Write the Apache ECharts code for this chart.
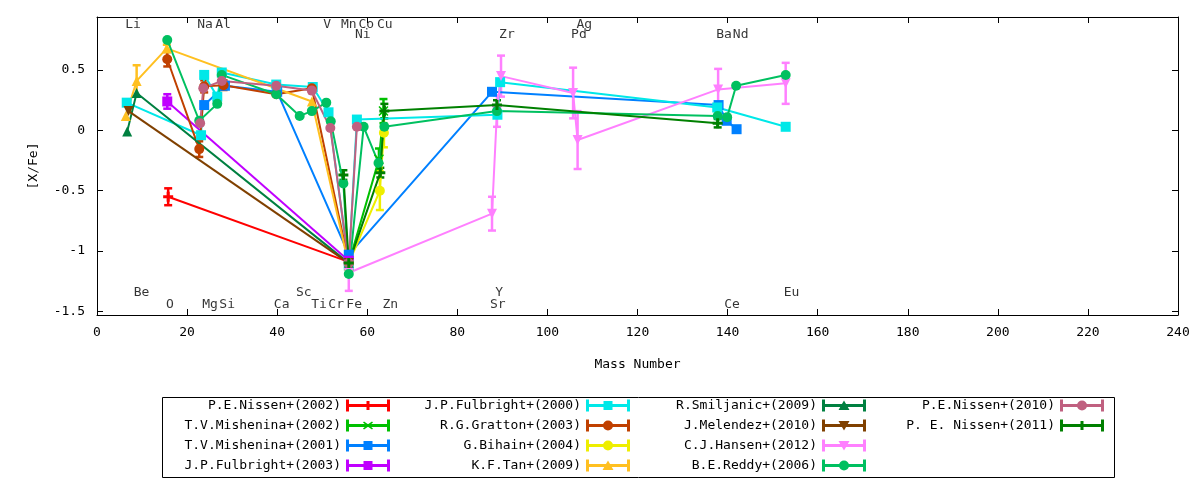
<!DOCTYPE html>
<html>
<head>
<meta charset="utf-8">
<script src="https://cdn.jsdelivr.net/npm/echarts@6/dist/echarts.min.js"></script>
<style>
  html, body { margin: 0; padding: 0; background: #fff; }
  #chart { width: 1200px; height: 480px; }
</style>
</head>
<body>
<div id="chart"></div>
<script>
// ---- data: mass number / [X/Fe] / error, one group per paper ----
const nissen2002Mass = [15.8, 55.9];
const nissen2002Val = [-0.55, -1.09];
const nissen2002Err = [0.07, 0];

const mishenina2002Mass = [55.9, 62.6, 63.6];
const mishenina2002Val = [-1.1, -0.24, 0.16];
const mishenina2002Err = [0, 0.09, 0.1];

const mishenina2001Mass = [23.8, 28.4, 40.0, 55.9, 87.7, 138.0, 139.8, 142.0];
const mishenina2001Val = [0.21, 0.37, 0.32, -1.03, 0.32, 0.21, 0.08, 0.01];

const fulbright2003Mass = [15.6, 55.9];
const fulbright2003Val = [0.24, -1.08];
const fulbright2003Err = [0.06, 0];

const fulbright2000Mass = [6.6, 23.1, 23.8, 26.7, 27.7, 39.8, 47.9, 51.4, 55.9, 57.7, 88.9, 89.5, 137.7, 152.9];
const fulbright2000Val = [0.23, -0.04, 0.46, 0.28, 0.48, 0.38, 0.36, 0.15, -1.12, 0.09, 0.13, 0.40, 0.19, 0.03];

const gratton2003Mass = [15.6, 22.7, 23.8, 28.1, 39.8, 47.7, 55.9];
const gratton2003Val = [0.59, -0.155, 0.365, 0.375, 0.30, 0.35, -1.1];
const gratton2003Err = [0.06, 0.065, 0.05, 0.04, 0, 0, 0];

const bihain2004Mass = [55.9, 62.8, 63.7];
const bihain2004Val = [-1.1, -0.5, -0.02];
const bihain2004Err = [0, 0.16, 0.12];

const tan2009Mass = [6.4, 8.8, 15.5, 47.7, 55.9];
const tan2009Val = [0.12, 0.41, 0.68, 0.24, -1.12];
const tan2009Err = [0, 0.13, 0.03, 0, 0];

const smiljanic2009Mass = [6.7, 8.8, 55.9];
const smiljanic2009Val = [-0.01, 0.31, -1.1];

const melendez2010Mass = [7.0, 55.9];
const melendez2010Val = [0.16, -1.1];

const hansen2012Mass = [55.9, 87.7, 88.8, 89.7, 105.7, 106.7, 137.9, 152.9];
const hansen2012Val = [-1.18, -0.69, 0.16, 0.45, 0.31, -0.08, 0.34, 0.39];
const hansen2012Err = [0.15, 0.14, 0.13, 0.17, 0.21, 0.24, 0.17, 0.17];

const reddy2006Mass = [15.6, 22.7, 26.7, 27.7, 39.8, 45.0, 47.7, 50.9, 51.9, 54.7, 55.9, 59.2, 62.5, 63.8, 88.8, 137.8, 139.9, 141.9, 152.9];
const reddy2006Val = [0.75, 0.08, 0.22, 0.46, 0.30, 0.12, 0.16, 0.23, 0.075, -0.44, -1.19, 0.03, -0.27, 0.03, 0.16, 0.12, 0.11, 0.37, 0.46];

const nissen2010Mass = [22.9, 23.6, 27.7, 39.8, 47.7, 51.8, 55.9, 57.7];
const nissen2010Val = [0.06, 0.35, 0.41, 0.37, 0.33, 0.02, -1.1, 0.03];

const nissen2011Mass = [54.7, 55.9, 62.9, 63.8, 88.8, 137.8];
const nissen2011Val = [-0.37, -1.1, -0.35, 0.16, 0.21, 0.06];
const nissen2011Err = [0.04, 0, 0.04, 0.06, 0.04, 0.035];

// element labels: name, mass where the label sits, and label row
const elemNames = ["Li", "Na", "Al", "V", "Mn", "Co", "Cu", "Ag",
  "Ni", "Zr", "Pd", "Ba", "Nd",
  "Be", "Sc", "Y", "Eu",
  "O", "Mg", "Si", "Ca", "Ti", "Cr", "Fe", "Zn", "Sr", "Ce"];
const elemMass = [8.0, 24.0, 28.0, 51.1, 55.9, 59.8, 63.9, 108.2,
  59.0, 91.0, 107.0, 139.2, 142.9,
  9.9, 45.9, 89.3, 154.2,
  16.2, 25.1, 28.9, 41.0, 49.3, 53.1, 57.1, 65.1, 89.0, 141.0];
const elemRow = [0.878, 0.878, 0.878, 0.878, 0.878, 0.878, 0.878, 0.878,
  0.795, 0.795, 0.795, 0.795, 0.795,
  -1.348, -1.348, -1.348, -1.348,
  -1.448, -1.448, -1.448, -1.448, -1.448, -1.448, -1.448, -1.448, -1.448, -1.448];

const yTicks = [-1.5, -1, -0.5, 0, 0.5];

// ---- styles ----
const FONT = "DejaVu Sans Mono";
const SYM = {
  plus: "path://M3.5,0 h3 v3.5 h3.5 v3 h-3.5 v3.5 h-3 v-3.5 h-3.5 v-3 h3.5 Z",
  cross: "path://M1,0 L5,3.6 L9,0 L10,1 L6.4,5 L10,9 L9,10 L5,6.4 L1,10 L0,9 L3.6,5 L0,1 Z",
  rect: "rect",
  circle: "circle",
  up: "triangle",
  down: "path://M0,0 L10,0 L5,9 Z"
};
// legend sample: line with end caps and the point type in the middle
const BAR = "M0 0 h3 v12 h-3 Z M41 0 h3 v12 h-3 Z M0 4.5 h44 v3 h-44 Z ";
const LEG = {
  plus: BAR + "M20.5 1.5 h3 v9 h-3 Z",
  cross: BAR + "M18 2 L22 4.8 L26 2 L27 3 L23.4 6 L27 9 L26 10 L22 7.2 L18 10 L17 9 L20.6 6 L17 3 Z",
  rect: BAR + "M17.5 1.5 h9 v9 h-9 Z",
  circle: BAR + "M17 6 A5 5 0 1 1 27 6 A5 5 0 1 1 17 6 Z",
  up: BAR + "M22 1 L27.5 10.5 L16.5 10.5 Z",
  down: BAR + "M16.5 1.5 L27.5 1.5 L22 11 Z"
};

const groups = [
  ["P.E.Nissen+(2002)", "#ff0000", "plus", nissen2002Mass, nissen2002Val, nissen2002Err],
  ["T.V.Mishenina+(2002)", "#00c000", "cross", mishenina2002Mass, mishenina2002Val, mishenina2002Err],
  ["T.V.Mishenina+(2001)", "#0080ff", "rect", mishenina2001Mass, mishenina2001Val, null],
  ["J.P.Fulbright+(2003)", "#c000ff", "rect", fulbright2003Mass, fulbright2003Val, fulbright2003Err],
  ["J.P.Fulbright+(2000)", "#00e8e8", "rect", fulbright2000Mass, fulbright2000Val, null],
  ["R.G.Gratton+(2003)", "#c04000", "circle", gratton2003Mass, gratton2003Val, gratton2003Err],
  ["G.Bihain+(2004)", "#eeee00", "circle", bihain2004Mass, bihain2004Val, bihain2004Err],
  ["K.F.Tan+(2009)", "#ffc020", "up", tan2009Mass, tan2009Val, tan2009Err],
  ["R.Smiljanic+(2009)", "#008040", "up", smiljanic2009Mass, smiljanic2009Val, null],
  ["J.Melendez+(2010)", "#804000", "down", melendez2010Mass, melendez2010Val, null],
  ["C.J.Hansen+(2012)", "#ff80ff", "down", hansen2012Mass, hansen2012Val, hansen2012Err],
  ["B.E.Reddy+(2006)", "#00c060", "circle", reddy2006Mass, reddy2006Val, null],
  ["P.E.Nissen+(2010)", "#c06080", "circle", nissen2010Mass, nissen2010Val, null],
  ["P. E. Nissen+(2011)", "#008000", "plus", nissen2011Mass, nissen2011Val, nissen2011Err]
];

function errRender(color) {
  return function (params, api) {
    const x = api.value(0), y = api.value(1), e = api.value(2);
    const a = api.coord([x, y + e]);
    const b = api.coord([x, y - e]);
    const w = 4;
    const st = { stroke: color, lineWidth: 2.5 };
    return {
      type: "group",
      children: [
        { type: "line", shape: { x1: a[0], y1: a[1], x2: b[0], y2: b[1] }, style: st },
        { type: "line", shape: { x1: a[0] - w, y1: a[1], x2: a[0] + w, y2: a[1] }, style: st },
        { type: "line", shape: { x1: b[0] - w, y1: b[1], x2: b[0] + w, y2: b[1] }, style: st }
      ]
    };
  };
}

const series = [];
groups.forEach(function (g) {
  const [name, color, sym, xs, ys, es] = g;
  if (es) {
    series.push({
      type: "custom",
      name: name,
      data: xs.map((x, i) => [x, ys[i], es[i]]).filter(d => d[2] > 0),
      encode: { x: 0, y: 1 },
      renderItem: errRender(color),
      itemStyle: { color: color },
      silent: true
    });
  }
  series.push({
    type: "line",
    name: name,
    data: xs.map((x, i) => [x, ys[i]]),
    symbol: SYM[sym],
    symbolSize: 10,
    showAllSymbol: true,
    lineStyle: { color: color, width: 2 },
    itemStyle: { color: color },
    silent: true
  });
});

// element names as text inside the plot
series.push({
  type: "scatter",
  name: "elements",
  data: elemNames.map((n, i) => [elemMass[i], elemRow[i], n]),
  symbolSize: 0,
  silent: true,
  label: {
    show: true,
    position: "inside",
    formatter: p => p.value[2],
    color: "#000",
    fontFamily: FONT,
    fontSize: 13
  },
  z: 5
});

// legend: 4 columns, text right aligned before the sample
const cols = [groups.slice(0, 4), groups.slice(4, 8), groups.slice(8, 12), groups.slice(12, 14)];
const colRight = [810, 570, 334, 96];
const legends = cols.map(function (c, k) {
  return {
    orient: "vertical",
    align: "right",
    right: colRight[k],
    top: 399,
    padding: 0,
    itemWidth: 44,
    itemHeight: 12,
    itemGap: 7,
    selectedMode: false,
    textStyle: { fontFamily: FONT, fontSize: 13, color: "#000" },
    data: c.map(g => ({ name: g[0], icon: "path://" + LEG[g[2]] }))
  };
});

const axisLineStyle = { color: "#000", width: 1 };

const option = {
  animation: false,
  backgroundColor: "#fff",
  grid: { left: 97, right: 22, top: 17, bottom: 165 },
  legend: legends,
  xAxis: [
    {
      type: "value", min: 0, max: 240, interval: 20, position: "bottom",
      axisLine: { onZero: false, lineStyle: axisLineStyle },
      axisTick: { inside: true, length: 6, lineStyle: axisLineStyle },
      axisLabel: { color: "#000", fontFamily: FONT, fontSize: 13, margin: 11 },
      splitLine: { show: false },
      name: "Mass Number", nameLocation: "middle", nameGap: 43,
      nameTextStyle: { color: "#000", fontFamily: FONT, fontSize: 13 }
    },
    {
      type: "value", min: 0, max: 240, interval: 20, position: "top",
      axisLine: { onZero: false, lineStyle: axisLineStyle },
      axisTick: { inside: true, length: 6, lineStyle: axisLineStyle },
      axisLabel: { show: false },
      splitLine: { show: false }
    }
  ],
  yAxis: [
    {
      type: "value", min: -1.53, max: 0.94, position: "left",
      axisLine: { show: true, onZero: false, lineStyle: axisLineStyle },
      axisTick: { show: true, inside: true, length: 6, lineStyle: axisLineStyle, customValues: yTicks },
      axisLabel: {
        color: "#000", fontFamily: FONT, fontSize: 13, margin: 12,
        customValues: yTicks, formatter: v => String(v)
      },
      splitLine: { show: false },
      name: "[X/Fe]", nameLocation: "middle", nameGap: 57,
      nameTextStyle: { color: "#000", fontFamily: FONT, fontSize: 13 }
    },
    {
      type: "value", min: -1.53, max: 0.94, position: "right",
      axisLine: { show: true, onZero: false, lineStyle: axisLineStyle },
      axisTick: { show: true, inside: true, length: 6, lineStyle: axisLineStyle, customValues: yTicks },
      axisLabel: { show: false },
      splitLine: { show: false }
    }
  ],
  graphic: [
    {
      type: "rect", left: 160, top: 395, silent: true,
      shape: { width: 952, height: 80 },
      style: { fill: "none", stroke: "#000", lineWidth: 1 }
    }
  ],
  series: series
};

const chart = echarts.init(document.getElementById("chart"));
chart.setOption(option);
</script>
</body>
</html>
